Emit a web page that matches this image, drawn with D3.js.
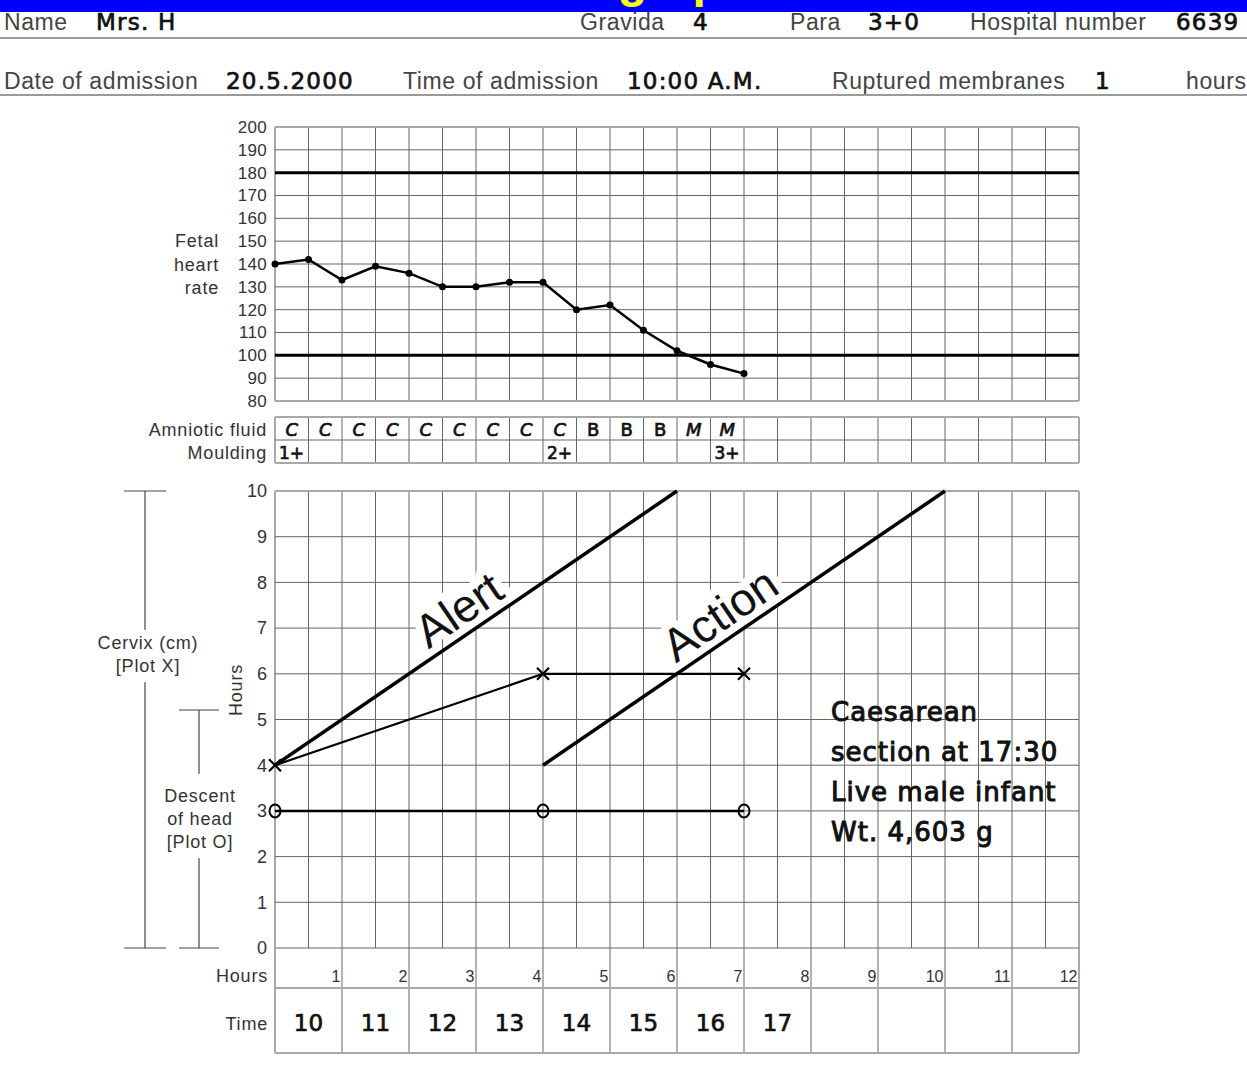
<!DOCTYPE html>
<html>
<head>
<meta charset="utf-8">
<script src="https://cdn.jsdelivr.net/npm/d3@7"></script>
<style>
  body { margin: 0; background: #fff; }
  svg { display: block; }
  .lbl { font-family: "Liberation Sans", Arial, sans-serif; fill: #333; }
  .hand { font-family: "DejaVu Sans", sans-serif; fill: #111; stroke: #111; stroke-width: 0.7px; }
</style>
</head>
<body>
<div id="chart"></div>
<script>
// ---- data ----
var fhrHours = [0, 0.5, 1, 1.5, 2, 2.5, 3, 3.5, 4, 4.5, 5, 5.5, 6, 6.5, 7];
var fhrValues = [140, 142, 133, 139, 136, 130, 130, 132, 132, 120, 122, 111, 102, 96, 92];
var fhrTicks = [80, 90, 100, 110, 120, 130, 140, 150, 160, 170, 180, 190, 200];
var fhrLimits = [100, 180];

var amnioticFluid = ["C", "C", "C", "C", "C", "C", "C", "C", "C", "B", "B", "B", "M", "M"];
var mouldingCols = [0, 8, 13];
var mouldingLabels = ["1+", "2+", "3+"];

var cervixHours = [0, 4, 7];
var cervixCm = [4, 6, 6];
var descentHours = [0, 4, 7];
var descentValues = [3, 3, 3];
var alertLine = [[0, 4], [6, 10]];
var actionLine = [[4, 4], [10, 10]];
var cmTicks = [0, 1, 2, 3, 4, 5, 6, 7, 8, 9, 10];

var hourTicks = [1, 2, 3, 4, 5, 6, 7, 8, 9, 10, 11, 12];
var timeLabels = ["10", "11", "12", "13", "14", "15", "16", "17"];

var headerRow1 = [["Name", 4, "Mrs. H", 96], ["Gravida", 580, "4", 693], ["Para", 790, "3+0", 868], ["Hospital number", 970, "6639", 1176]];
var headerRow2 = [["Date of admission", 4, "20.5.2000", 226], ["Time of admission", 403, "10:00 A.M.", 627], ["Ruptured membranes", 832, "1", 1095], ["hours", 1186, "", 0]];
var outcome = ["Caesarean", "section at 17:30", "Live male infant", "Wt. 4,603 g"];

// ---- layout ----
var width = 1247, height = 1067;
var gridColor = "#666", borderColor = "#a8a8a8";

var svg = d3.select("#chart").append("svg")
	.attr("width", width)
	.attr("height", height);

var x = d3.scaleLinear().domain([0, 12]).range([275, 1079]);
var yF = d3.scaleLinear().domain([80, 200]).range([401, 127]);
var yC = d3.scaleLinear().domain([0, 10]).range([948, 491]);
var halfHours = d3.range(0, 12.5, 0.5);

// label style shared by the printed form captions
function caption(sel, size) {
	return sel.attr("class", "lbl")
		.style("font-size", (size || 18) + "px")
		.style("letter-spacing", "0.8px");
}

/*
 * Title bar and header fields
 */
svg.append("clipPath").attr("id", "barclip")
	.append("rect").attr("width", width).attr("height", 12);
svg.append("rect").attr("width", width).attr("height", 12).attr("fill", "#0000ff");
svg.append("text")
	.attr("clip-path", "url(#barclip)")
	.attr("x", 623).attr("y", -3)
	.attr("text-anchor", "middle")
	.style("font", "bold 48px 'Liberation Sans', sans-serif")
	.attr("fill", "#ffff00")
	.text("Partograph");

[38, 95].forEach(function(yy) {
	svg.append("line").attr("x1", 0).attr("x2", width).attr("y1", yy).attr("y2", yy)
		.attr("stroke", "#9a9a9a").attr("stroke-width", 2);
});

function header(row, baseline) {
	row.forEach(function(d) {
		svg.append("text").attr("class", "lbl")
			.attr("x", d[1]).attr("y", baseline)
			.style("font-size", "23px").style("letter-spacing", "0.6px").style("fill", "#444")
			.text(d[0]);
		if (d[2]) {
			svg.append("text").attr("class", "hand")
				.attr("x", d[3]).attr("y", baseline)
				.style("font-size", "23px").style("letter-spacing", "1.2px")
				.text(d[2]);
		}
	});
}
header(headerRow1, 30);
header(headerRow2, 89);

/*
 * Fetal heart rate grid
 */
var fhr = svg.append("g");
fhr.selectAll(".vl").data(halfHours).enter().append("line")
	.attr("x1", x).attr("x2", x)
	.attr("y1", yF(200)).attr("y2", yF(80))
	.attr("stroke", function(d) { return d === 0 || d === 12 ? borderColor : gridColor; })
	.attr("stroke-width", function(d) { return d === 0 || d === 12 ? 2 : 1; });
fhr.selectAll(".hl").data(fhrTicks).enter().append("line")
	.attr("x1", x(0)).attr("x2", x(12))
	.attr("y1", yF).attr("y2", yF)
	.attr("stroke", function(d) { return d === 80 || d === 200 ? borderColor : gridColor; })
	.attr("stroke-width", function(d) { return d === 80 || d === 200 ? 2 : 1; });
fhr.selectAll(".lim").data(fhrLimits).enter().append("line")
	.attr("x1", x(0)).attr("x2", x(12))
	.attr("y1", yF).attr("y2", yF)
	.attr("stroke", "#000").attr("stroke-width", 3);
fhr.selectAll(".tk").data(fhrTicks).enter().append("text")
	.attr("class", "lbl")
	.attr("x", 267).attr("y", yF).attr("dy", "0.35em")
	.attr("text-anchor", "end")
	.style("font-size", "17px").style("letter-spacing", "0.3px")
	.text(function(d) { return d; });
["Fetal", "heart", "rate"].forEach(function(t, i) {
	caption(fhr.append("text"))
		.attr("x", 219).attr("y", yF(150) + i * 23.3).attr("dy", "0.35em")
		.attr("text-anchor", "end")
		.text(t);
});

var fhrLine = d3.line().x(function(d) { return x(d[0]); }).y(function(d) { return yF(d[1]); });
var fhrPts = d3.zip(fhrHours, fhrValues);
fhr.append("path").attr("d", fhrLine(fhrPts))
	.attr("fill", "none").attr("stroke", "#000").attr("stroke-width", 2.5);
fhr.selectAll(".pt").data(fhrPts).enter().append("circle")
	.attr("cx", function(d) { return x(d[0]); })
	.attr("cy", function(d) { return yF(d[1]); })
	.attr("r", 3.5).attr("fill", "#000");

/*
 * Amniotic fluid / moulding table
 */
var tTop = 417, tMid = 440, tBot = 463;
var tab = svg.append("g");
tab.selectAll(".vl").data(halfHours).enter().append("line")
	.attr("x1", x).attr("x2", x).attr("y1", tTop).attr("y2", tBot)
	.attr("stroke", function(d) { return d === 0 || d === 12 ? borderColor : gridColor; })
	.attr("stroke-width", function(d) { return d === 0 || d === 12 ? 2 : 1; });
[tTop, tMid, tBot].forEach(function(yy, i) {
	tab.append("line").attr("x1", x(0)).attr("x2", x(12)).attr("y1", yy).attr("y2", yy)
		.attr("stroke", i === 1 ? gridColor : borderColor).attr("stroke-width", i === 1 ? 1 : 2);
});
caption(tab.append("text")).attr("x", 267).attr("y", 436)
	.attr("text-anchor", "end").text("Amniotic fluid");
caption(tab.append("text")).attr("x", 267).attr("y", 459)
	.attr("text-anchor", "end").text("Moulding");
tab.selectAll(".af").data(amnioticFluid).enter().append("text")
	.attr("class", "hand")
	.attr("x", function(d, i) { return x(i * 0.5 + 0.25); })
	.attr("y", 436)
	.attr("text-anchor", "middle")
	.style("font-size", "18px")
	.style("font-style", function(d) { return d === "B" ? "normal" : "italic"; })
	.text(function(d) { return d; });
tab.selectAll(".ml").data(mouldingLabels).enter().append("text")
	.attr("class", "hand")
	.attr("x", function(d, i) { return x(mouldingCols[i] * 0.5) + 4; })
	.attr("y", 459)
	.style("font-size", "17px")
	.text(function(d) { return d; });

/*
 * Cervix / descent grid
 */
var cx = svg.append("g");
cx.selectAll(".vl").data(halfHours).enter().append("line")
	.attr("x1", x).attr("x2", x).attr("y1", yC(10)).attr("y2", yC(0))
	.attr("stroke", function(d) { return d === 0 || d === 12 ? borderColor : gridColor; })
	.attr("stroke-width", function(d) { return d === 0 || d === 12 ? 2 : 1; });
cx.selectAll(".hl").data(cmTicks).enter().append("line")
	.attr("x1", x(0)).attr("x2", x(12)).attr("y1", yC).attr("y2", yC)
	.attr("stroke", function(d) { return d === 10 ? borderColor : gridColor; })
	.attr("stroke-width", function(d) { return d === 10 ? 2 : 1; });
cx.selectAll(".tk").data(cmTicks).enter().append("text")
	.attr("class", "lbl")
	.attr("x", 267).attr("y", yC).attr("dy", "0.35em")
	.attr("text-anchor", "end")
	.style("font-size", "18px")
	.text(function(d) { return d; });

var guide = d3.line().x(function(d) { return x(d[0]); }).y(function(d) { return yC(d[1]); });
var ang = Math.atan2(yC(10) - yC(4), x(6) - x(0)) * 180 / Math.PI;

function guideLabel(txt, h, line) {
	var h0 = line[0][0], c0 = line[0][1];
	var px = x(h), py = yC(c0 + (h - h0));
	cx.append("text").attr("class", "lbl")
		.attr("transform", "translate(" + px + "," + py + ") rotate(" + ang + ")")
		.attr("y", -9)
		.attr("text-anchor", "middle")
		.style("font-size", "46px").style("fill", "#111")
		.style("stroke", "#fff").style("stroke-width", 16).style("paint-order", "stroke")
		.style("stroke-linejoin", "round")
		.text(txt);
}
guideLabel("Alert", 2.95, alertLine);
guideLabel("Action", 6.85, actionLine);

[alertLine, actionLine].forEach(function(l) {
	cx.append("path").attr("d", guide(l))
		.attr("fill", "none").attr("stroke", "#000").attr("stroke-width", 3.5);
});

var cervixPts = d3.zip(cervixHours, cervixCm);
var descentPts = d3.zip(descentHours, descentValues);
cx.append("path").attr("d", guide(cervixPts))
	.attr("fill", "none").attr("stroke", "#000").attr("stroke-width", 2.2);
cx.append("path").attr("d", guide(descentPts))
	.attr("fill", "none").attr("stroke", "#000").attr("stroke-width", 2.5);
cx.selectAll(".xm").data(cervixPts).enter().append("path")
	.attr("transform", function(d) { return "translate(" + x(d[0]) + "," + yC(d[1]) + ")"; })
	.attr("d", "M-6,-6L6,6M-6,6L6,-6")
	.attr("stroke", "#000").attr("stroke-width", 2.2);
cx.selectAll(".om").data(descentPts).enter().append("ellipse")
	.attr("cx", function(d) { return x(d[0]); })
	.attr("cy", function(d) { return yC(d[1]); })
	.attr("rx", 5.5).attr("ry", 6.5)
	.attr("fill", "none").attr("stroke", "#000").attr("stroke-width", 2);

cx.selectAll(".oc").data(outcome).enter().append("text")
	.attr("class", "hand")
	.attr("x", 831)
	.attr("y", function(d, i) { return 721 + i * 40; })
	.style("font-size", "26px")
	.style("letter-spacing", "1px")
	.style("stroke-width", "1px")
	.text(function(d) { return d; });

// left brackets
function bracket(bx, y0, y1, gap0, gap1, w) {
	var g = svg.append("g").attr("stroke", "#444").attr("stroke-width", 1.2);
	g.append("line").attr("x1", bx - w).attr("x2", bx + w).attr("y1", y0).attr("y2", y0);
	g.append("line").attr("x1", bx - w).attr("x2", bx + w).attr("y1", y1).attr("y2", y1);
	g.append("line").attr("x1", bx).attr("x2", bx).attr("y1", y0).attr("y2", gap0);
	g.append("line").attr("x1", bx).attr("x2", bx).attr("y1", gap1).attr("y2", y1);
}
bracket(145, yC(10), yC(0), 630, 682, 21);
bracket(199, 710, yC(0), 774, 858, 20);
[["Cervix (cm)", 649], ["[Plot X]", 672]].forEach(function(d) {
	caption(svg.append("text")).attr("x", 148).attr("y", d[1])
		.attr("text-anchor", "middle").text(d[0]);
});
[["Descent", 802], ["of head", 825], ["[Plot O]", 848]].forEach(function(d) {
	caption(svg.append("text")).attr("x", 200).attr("y", d[1])
		.attr("text-anchor", "middle").text(d[0]);
});
caption(svg.append("text"))
	.attr("transform", "translate(242,690) rotate(-90)")
	.attr("text-anchor", "middle")
	.text("Hours");

/*
 * Hours / time table
 */
var hTop = yC(0), hMid = 988, hBot = 1053;
var tt = svg.append("g");
tt.selectAll(".vl").data([0].concat(hourTicks)).enter().append("line")
	.attr("x1", x).attr("x2", x).attr("y1", hTop).attr("y2", hBot)
	.attr("stroke", function(d) { return d === 0 || d === 12 ? borderColor : gridColor; })
	.attr("stroke-width", function(d) { return d === 0 || d === 12 ? 2 : 1; });
[hMid, hBot].forEach(function(yy) {
	tt.append("line").attr("x1", x(0)).attr("x2", x(12)).attr("y1", yy).attr("y2", yy)
		.attr("stroke", borderColor).attr("stroke-width", 2);
});
tt.selectAll(".hk").data(hourTicks).enter().append("text")
	.attr("class", "lbl")
	.attr("x", function(d) { return x(d) - 2; }).attr("y", 982)
	.attr("text-anchor", "end").style("font-size", "16px").style("letter-spacing", "-0.3px")
	.text(function(d) { return d; });
caption(tt.append("text")).attr("x", 268).attr("y", 982)
	.attr("text-anchor", "end").text("Hours");
caption(tt.append("text")).attr("x", 268).attr("y", 1030)
	.attr("text-anchor", "end").text("Time");
tt.selectAll(".tm").data(timeLabels).enter().append("text")
	.attr("class", "hand")
	.attr("x", function(d, i) { return x(i + 0.5); }).attr("y", 1031)
	.attr("text-anchor", "middle")
	.style("font-size", "23px")
	.text(function(d) { return d; });
</script>
</body>
</html>
